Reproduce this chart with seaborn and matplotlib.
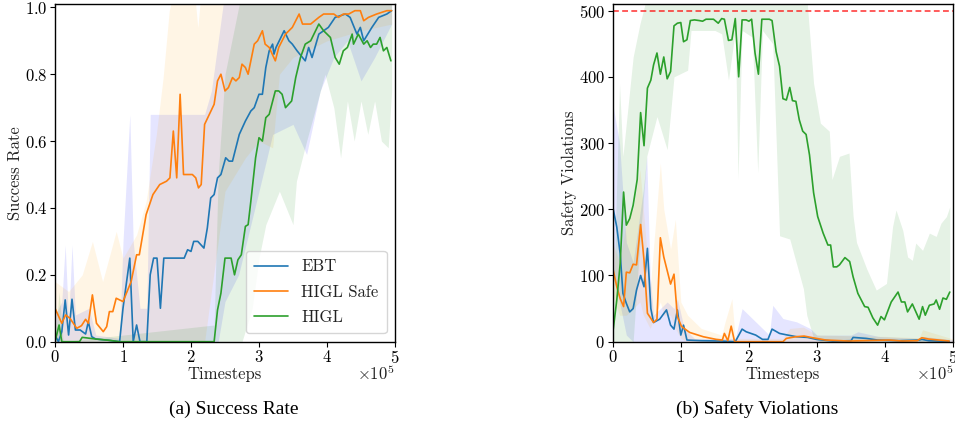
import numpy as np
import pandas as pd
import matplotlib
matplotlib.use("Agg")
import matplotlib.pyplot as plt
import seaborn as sns

# ---------------- data (timesteps in units of 1e5) ----------------
SCALE = 1e5
series_names = ["EBT", "HIGL Safe", "HIGL"]
line_colors = ["#1f77b4", "#ff7f0e", "#2ca02c"]
band_colors = ["blue", "orange", "green"]

# ---- (a) Success rate: mean lines ----
sr_ebt_x = [0.0, 0.05, 0.1, 0.15, 0.2, 0.25, 0.3, 0.37, 0.45, 0.49, 0.54, 0.6, 0.8, 0.95, 1.0, 1.1, 1.15, 1.2, 1.25, 1.35,
            1.4, 1.45, 1.5, 1.55, 1.6, 1.9, 1.95, 2.0, 2.04, 2.1, 2.19, 2.24, 2.29, 2.34, 2.39, 2.44, 2.51, 2.56, 2.61, 2.71,
            2.8, 2.88, 2.93, 3.0, 3.05, 3.1, 3.15, 3.2, 3.22, 3.25, 3.37, 3.44, 3.49, 3.56, 3.68, 3.73, 3.78, 3.88, 3.95, 4.02,
            4.12, 4.27, 4.34, 4.44, 4.49, 4.54, 4.66, 4.76, 4.88, 4.95]
sr_ebt_y = [0.02, 0.0, 0.03, 0.125, 0.02, 0.127, 0.035, 0.035, 0.023, 0.06, 0.015, 0.008, 0.004, 0.0, 0.10, 0.25, 0.0, 0.05, 0.0, 0.0,
            0.2, 0.25, 0.25, 0.1, 0.25, 0.25, 0.275, 0.27, 0.30, 0.30, 0.28, 0.34, 0.43, 0.44, 0.49, 0.50, 0.55, 0.54, 0.54, 0.62,
            0.66, 0.69, 0.70, 0.74, 0.74, 0.82, 0.87, 0.89, 0.86, 0.88, 0.93, 0.90, 0.89, 0.87, 0.84, 0.88, 0.85, 0.92, 0.93, 0.94,
            0.97, 0.98, 0.97, 0.92, 0.94, 0.90, 0.94, 0.97, 0.98, 0.99]

sr_safe_x = [0.0, 0.1, 0.156, 0.22, 0.32, 0.39, 0.45, 0.49, 0.55, 0.61, 0.71, 0.76, 0.8, 0.85, 0.9, 1.0, 1.05, 1.12, 1.2, 1.24,
             1.29, 1.34, 1.44, 1.54, 1.64, 1.69, 1.74, 1.79, 1.84, 1.89, 2.02, 2.07, 2.11, 2.15, 2.2, 2.27, 2.34, 2.39, 2.44, 2.5,
             2.55, 2.61, 2.66, 2.71, 2.75, 2.8, 2.84, 2.93, 2.98, 3.05, 3.09, 3.15, 3.24, 3.29, 3.39, 3.49, 3.59, 3.64, 3.76, 3.88,
             3.95, 4.05, 4.1, 4.17, 4.24, 4.32, 4.41, 4.49, 4.54, 4.61, 4.73, 4.88, 4.95]
sr_safe_y = [0.10, 0.055, 0.08, 0.07, 0.04, 0.048, 0.067, 0.055, 0.14, 0.055, 0.03, 0.045, 0.09, 0.09, 0.13, 0.12, 0.145, 0.18, 0.26, 0.26,
             0.32, 0.38, 0.44, 0.47, 0.48, 0.49, 0.63, 0.49, 0.74, 0.50, 0.50, 0.49, 0.46, 0.47, 0.65, 0.68, 0.71, 0.78, 0.80, 0.75,
             0.76, 0.79, 0.78, 0.79, 0.83, 0.82, 0.80, 0.89, 0.90, 0.93, 0.89, 0.88, 0.84, 0.88, 0.92, 0.94, 0.98, 0.95, 0.95, 0.97,
             0.98, 0.98, 0.98, 0.97, 0.98, 0.98, 0.99, 0.99, 0.96, 0.97, 0.98, 0.99, 0.99]

sr_higl_x = [0.0, 0.06, 0.1, 0.36, 0.4, 0.6, 0.8, 0.95, 2.34, 2.39, 2.44, 2.5, 2.59, 2.64, 2.69, 2.74, 2.8, 2.84, 2.88, 2.95,
             3.0, 3.05, 3.1, 3.15, 3.24, 3.29, 3.34, 3.39, 3.48, 3.54, 3.61, 3.68, 3.76, 3.88, 3.95, 4.05, 4.12, 4.18, 4.24, 4.3,
             4.37, 4.39, 4.46, 4.54, 4.59, 4.64, 4.68, 4.73, 4.78, 4.83, 4.88, 4.94]
sr_higl_y = [0.0, 0.05, 0.0, 0.0, 0.013, 0.008, 0.004, 0.0, 0.0, 0.095, 0.145, 0.25, 0.25, 0.20, 0.245, 0.26, 0.345, 0.35, 0.42, 0.55,
             0.61, 0.60, 0.67, 0.68, 0.75, 0.75, 0.74, 0.70, 0.72, 0.79, 0.85, 0.89, 0.90, 0.95, 0.93, 0.91, 0.85, 0.83, 0.87, 0.88,
             0.92, 0.89, 0.92, 0.89, 0.90, 0.88, 0.89, 0.89, 0.91, 0.87, 0.88, 0.84]

# ---- (a) Success rate: spread bands ----
sr_ebt_bx = [0.0, 0.1, 0.15, 0.2, 0.25, 0.3, 0.5, 0.6, 0.95, 1.0, 1.1, 1.15, 1.25, 1.35, 1.4, 1.6, 1.7, 2.0, 2.2, 2.3,
             2.4, 2.5, 2.7, 3.0, 3.2, 3.5, 3.7, 3.9, 4.1, 4.3, 4.5, 4.7, 4.95]
sr_ebt_lo = [0.0, 0.0, 0.0, 0.0, 0.0, 0.0, 0.0, 0.0, 0.0, 0.0, 0.0, 0.0, 0.0, 0.0, 0.0, 0.0, 0.0, 0.0, 0.0, 0.0,
             0.0, 0.12, 0.2, 0.45, 0.62, 0.65, 0.56, 0.75, 0.85, 0.9, 0.78, 0.85, 0.95]
sr_ebt_hi = [0.08, 0.12, 0.29, 0.06, 0.29, 0.08, 0.1, 0.02, 0.01, 0.3, 0.68, 0.3, 0.1, 0.1, 0.68, 0.68, 0.68, 0.68, 0.68, 0.75,
             0.9, 1.05, 1.05, 1.05, 1.05, 1.05, 1.05, 1.05, 1.05, 1.05, 1.05, 1.05, 1.05]

sr_safe_bx = [0.0, 0.2, 0.4, 0.55, 0.7, 0.9, 1.0, 1.2, 1.34, 1.49, 1.59, 1.68, 1.75, 2.05, 2.1, 2.15, 2.2, 2.5, 2.8, 3.0,
              3.2, 3.3, 3.5, 4.0, 4.5, 4.95]
sr_safe_lo = [0.0, 0.0, 0.0, 0.0, 0.0, 0.0, 0.0, 0.0, 0.0, 0.0, 0.0, 0.0, 0.0, 0.0, 0.0, 0.0, 0.0, 0.45, 0.55, 0.6,
              0.58, 0.8, 0.85, 0.9, 0.93, 0.95]
sr_safe_hi = [0.18, 0.15, 0.2, 0.3, 0.18, 0.33, 0.25, 0.32, 0.42, 0.62, 0.79, 0.99, 1.05, 1.05, 0.94, 1.05, 1.05, 1.05, 1.05, 1.05,
              1.05, 1.05, 1.05, 1.05, 1.05, 1.05]

sr_higl_bx = [0.0, 0.06, 0.12, 2.34, 2.4, 2.5, 2.6, 2.75, 2.9, 3.0, 3.1, 3.3, 3.5, 3.55, 3.7, 3.97, 4.1, 4.2, 4.3, 4.4,
              4.5, 4.6, 4.7, 4.8, 4.9, 4.95]
sr_higl_lo = [0.0, 0.0, 0.0, 0.0, 0.0, 0.0, 0.0, 0.0, 0.1, 0.25, 0.35, 0.45, 0.35, 0.48, 0.6, 0.8, 0.7, 0.55, 0.72, 0.6,
              0.72, 0.62, 0.72, 0.6, 0.58, 0.75]
sr_higl_hi = [0.0, 0.15, 0.0, 0.05, 0.5, 0.8, 0.9, 1.05, 1.05, 1.05, 1.05, 1.05, 1.05, 1.05, 1.05, 1.05, 1.05, 1.05, 1.05, 1.05,
              1.05, 1.05, 1.05, 1.05, 1.05, 1.05]

# ---- (b) Safety violations: mean lines ----
sv_ebt_x = [0.0, 0.06, 0.11, 0.15, 0.2, 0.25, 0.3, 0.35, 0.41, 0.46, 0.51, 0.56, 0.6, 0.69, 0.79, 0.85, 0.9, 0.95, 1.0, 1.04,
            1.09, 1.3, 1.6, 1.8, 1.9, 1.96, 2.1, 2.2, 2.28, 2.34, 2.45, 2.57, 2.7, 2.86, 2.99, 3.23, 3.5, 3.53, 3.72, 3.89,
            4.2, 4.5, 4.54, 4.64, 4.94]
sv_ebt_y = [204, 173, 133, 73, 58, 45, 50, 78, 100, 83, 141, 50, 29, 34, 48, 25, 19, 48, 10, 25,
            2.5, 1.5, 1.0, 0.0, 19, 15, 10, 3.5, 3.5, 19, 12.5, 10, 7.5, 6.5, 3.5, 1.0, 1.5, 6.5, 5.0, 2.5,
            1.5, 2.5, 3.5, 1.5, 0.5]

sv_safe_x = [0.0, 0.06, 0.11, 0.16, 0.2, 0.25, 0.3, 0.35, 0.41, 0.46, 0.51, 0.6, 0.65, 0.7, 0.75, 0.85, 0.9, 0.95, 1.01, 1.13,
             1.33, 1.52, 1.61, 1.64, 1.69, 1.74, 1.79, 2.5, 2.55, 2.69, 2.81, 2.99, 3.13, 3.47, 4.06, 4.25, 4.47, 4.54, 4.64, 4.94]
sv_safe_y = [112, 83, 65, 53, 105, 104, 117, 116, 177, 123, 43, 29, 34, 157, 128, 87, 102, 38, 23, 14,
             7.5, 3.5, 2.5, 12.5, 1.5, 23.5, 0.0, 0.0, 5.0, 7.5, 8.5, 5.0, 2.5, 1.0, 2.5, 1.0, 1.5, 6.0, 4.0, 1.0]

sv_higl_x = [0.0, 0.06, 0.11, 0.16, 0.2, 0.25, 0.3, 0.36, 0.41, 0.46, 0.51, 0.56, 0.6, 0.65, 0.7, 0.75, 0.8, 0.85, 0.9, 0.95,
             1.0, 1.04, 1.09, 1.14, 1.2, 1.27, 1.32, 1.37, 1.42, 1.48, 1.55, 1.6, 1.64, 1.7, 1.75, 1.8, 1.85, 1.9, 1.96, 2.0,
             2.04, 2.09, 2.14, 2.19, 2.3, 2.34, 2.4, 2.45, 2.5, 2.55, 2.6, 2.64, 2.69, 2.74, 2.79, 2.84, 2.89, 2.95, 3.01, 3.09,
             3.16, 3.2, 3.24, 3.29, 3.33, 3.41, 3.48, 3.53, 3.6, 3.7, 3.75, 3.82, 3.89, 3.94, 3.99, 4.09, 4.19, 4.24, 4.29, 4.33,
             4.4, 4.5, 4.55, 4.59, 4.65, 4.72, 4.75, 4.8, 4.85, 4.9, 4.95]
sv_higl_y = [12, 63, 118, 226, 176, 186, 206, 245, 346, 296, 383, 395, 418, 436, 404, 430, 397, 408, 477, 481,
             482, 453, 456, 485, 486, 485, 484, 487, 487, 487, 481, 488, 487, 455, 456, 488, 400, 486, 486, 484,
             487, 436, 404, 487, 487, 485, 438, 416, 367, 365, 384, 364, 363, 335, 318, 313, 282, 225, 189, 164,
             146, 146, 113, 113, 116, 127, 121, 98, 73, 53, 52, 36, 25, 38, 33, 60, 75, 60, 60, 45,
             57, 34, 53, 40, 55, 57, 63, 49, 66, 64, 75]

# ---- (b) Safety violations: spread bands ----
sv_ebt_bx = [0.0, 0.1, 0.2, 0.3, 0.45, 0.5, 0.55, 0.6, 0.8, 0.9, 0.95, 1.05, 1.2, 1.8, 1.9, 2.0, 2.1, 2.3, 2.35, 2.5,
             2.7, 2.9, 3.0, 3.5, 3.6, 3.9, 4.5, 4.55, 5.0]
sv_ebt_lo = [100, 60, 10, 0, 0, 0, 0, 0, 0, 0, 0, 0, 0, 0, 0, 0, 0, 0, 0, 0,
             0, 0, 0, 0, 0, 0, 0, 0, 0]
sv_ebt_hi = [360, 300, 150, 120, 230, 280, 100, 40, 60, 50, 65, 20, 5, 5, 50, 40, 30, 10, 55, 35,
             30, 20, 10, 10, 15, 8, 5, 8, 3]

sv_safe_bx = [0.0, 0.1, 0.2, 0.3, 0.4, 0.45, 0.55, 0.7, 0.75, 0.85, 0.92, 1.0, 1.1, 1.3, 1.6, 1.65, 1.75, 1.8, 2.5, 2.6,
              2.8, 3.0, 4.0, 4.5, 4.55, 5.0]
sv_safe_lo = [70, 40, 40, 50, 60, 40, 20, 60, 40, 40, 20, 5, 0, 0, 0, 0, 0, 0, 0, 0,
              0, 0, 0, 0, 0, 0]
sv_safe_hi = [150, 120, 180, 200, 260, 200, 80, 270, 200, 140, 185, 60, 40, 20, 10, 30, 65, 5, 5, 20,
              22, 10, 8, 6, 18, 4]

sv_higl_bx = [0.0, 0.1, 0.15, 0.3, 0.4, 0.5, 0.55, 0.65, 0.8, 0.9, 1.1, 1.15, 1.5, 1.6, 1.7, 1.8, 1.84, 1.9, 2.05, 2.13,
              2.2, 2.35, 2.45, 2.6, 2.8, 2.85, 2.95, 3.05, 3.18, 3.22, 3.33, 3.47, 3.53, 3.58, 3.73, 3.87, 4.02, 4.11, 4.16, 4.26,
              4.33, 4.4, 4.45, 4.55, 4.65, 4.75, 4.82, 4.9, 4.95]
sv_higl_lo = [0, 0, 0, 0, 150, 280, 300, 340, 290, 400, 410, 470, 470, 465, 395, 470, 245, 470, 460, 255,
              470, 450, 160, 155, 80, 40, 5, 0, 0, 0, 0, 0, 0, 0, 0, 0, 0, 0, 0, 0,
              0, 0, 0, 0, 0, 0, 0, 0, 0]
sv_higl_hi = [20, 390, 280, 430, 480, 520, 520, 520, 520, 520, 520, 520, 520, 520, 520, 520, 520, 520, 520, 520,
              520, 520, 520, 520, 520, 520, 390, 330, 318, 245, 280, 285, 190, 150, 110, 78, 88, 174, 199, 168,
              128, 123, 149, 138, 164, 159, 179, 189, 204]

limit_value = 500

# ---------------- style ----------------
sns.set_theme(style="ticks")
plt.rcParams["font.family"] = ["cmr10", "DejaVu Serif"]
plt.rcParams["mathtext.fontset"] = "cm"
plt.rcParams["axes.formatter.use_mathtext"] = True
plt.rcParams["axes.edgecolor"] = "black"
plt.rcParams["axes.linewidth"] = 1.0
plt.rcParams["xtick.color"] = "black"
plt.rcParams["ytick.color"] = "black"
plt.rcParams["text.color"] = "#222222"
plt.rcParams["axes.labelcolor"] = "#222222"

fig = plt.figure(figsize=(9.55, 4.34), dpi=100)
axL = fig.add_axes([55 / 955, 92.3 / 434, 340 / 955, 337.7 / 434])
axR = fig.add_axes([612.7 / 955, 92.3 / 434, 340.5 / 955, 337.7 / 434])


def draw(ax, lines, bands):
    for (bx, lo, hi), col in zip(bands, band_colors):
        ax.fill_between(np.array(bx) * SCALE, lo, hi, color=col, alpha=0.1, linewidth=0)
    for (x, y), name, col in zip(lines, series_names, line_colors):
        df = pd.DataFrame({"Timesteps": np.array(x) * SCALE, "value": y})
        sns.lineplot(data=df, x="Timesteps", y="value", ax=ax, color=col, label=name, linewidth=1.2)


draw(axL,
     [(sr_ebt_x, sr_ebt_y), (sr_safe_x, sr_safe_y), (sr_higl_x, sr_higl_y)],
     [(sr_ebt_bx, sr_ebt_lo, sr_ebt_hi), (sr_safe_bx, sr_safe_lo, sr_safe_hi), (sr_higl_bx, sr_higl_lo, sr_higl_hi)])
draw(axR,
     [(sv_ebt_x, sv_ebt_y), (sv_safe_x, sv_safe_y), (sv_higl_x, sv_higl_y)],
     [(sv_ebt_bx, sv_ebt_lo, sv_ebt_hi), (sv_safe_bx, sv_safe_lo, sv_safe_hi), (sv_higl_bx, sv_higl_lo, sv_higl_hi)])
axR.axhline(limit_value, color="red", linestyle=(0, (3.5, 2)), linewidth=1.2, alpha=0.75)

axL.set_xlim(0, 5 * SCALE)
axL.set_ylim(0, 1.01)
axR.set_xlim(0, 5 * SCALE)
axR.set_ylim(0, 510)
axL.set_yticks([0.0, 0.2, 0.4, 0.6, 0.8, 1.0])
axR.set_yticks([0, 100, 200, 300, 400, 500])
axL.set_ylabel("Success Rate", fontsize=12, labelpad=1)
axR.set_ylabel("Safety Violations", fontsize=12, labelpad=1)

for ax in (axL, axR):
    ax.set_xticks([0, 1e5, 2e5, 3e5, 4e5, 5e5])
    ax.ticklabel_format(style="sci", axis="x", scilimits=(0, 0), useMathText=True)
    ax.xaxis.get_offset_text().set_visible(False)
    ax.text(1.0, -0.092, r"$\times10^{5}$", transform=ax.transAxes, ha="right", va="center",
            fontsize=12, color="#222222")
    ax.set_xlabel("Timesteps", fontsize=12, labelpad=0)
    ax.tick_params(labelsize=12, length=3.5, width=0.8, pad=2)
    for s in ax.spines.values():
        s.set_visible(True)
        s.set_color("black")

leg = axL.legend(loc="lower right", fontsize=12, frameon=True, framealpha=0.8,
                 edgecolor="#cccccc", handlelength=2.0, labelspacing=0.6, borderpad=0.5)
if axR.get_legend() is not None:
    axR.get_legend().remove()

fig.text(234 / 955, 1 - 409 / 434, "(a) Success Rate", ha="center", va="center",
         family="Liberation Serif", fontsize=14, color="black")
fig.text(757 / 955, 1 - 409 / 434, "(b) Safety Violations", ha="center", va="center",
         family="Liberation Serif", fontsize=14, color="black")

fig.savefig("out.png", dpi=100)
